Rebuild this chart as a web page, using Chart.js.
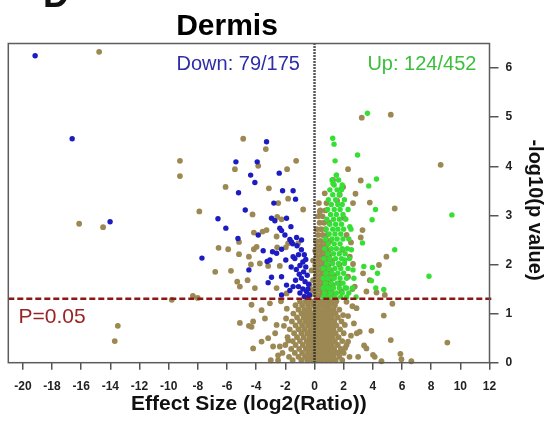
<!DOCTYPE html>
<html>
<head>
<meta charset="utf-8">
<script src="https://cdn.jsdelivr.net/npm/chart.js@4.4.1/dist/chart.umd.min.js"></script>
<style>
  body { margin: 0; background: #fff; }
  canvas { display: block; }
</style>
</head>
<body>
<canvas id="volcano" width="545" height="423"></canvas>
<script>
const xTicks = [-20, -18, -16, -14, -12, -10, -8, -6, -4, -2, 0, 2, 4, 6, 8, 10, 12]
const yTicks = [0, 1, 2, 3, 4, 5, 6]
const pCut = 1.3

// significant down (blue)
const downPts = [
    [-19.16, 6.25], [-16.62, 4.56], [-14.02, 2.87], [-6.62, 2.93], [-6.08, 2.74], [-4.75, 3.11],
    [-5.25, 2.53], [-7.72, 2.13], [-4.5, 1.89], [-3.29, 4.5], [-5.39, 4.09], [-3.93, 4.09],
    [-4.38, 3.82], [-2.42, 3.86], [-4.09, 3.67], [-5.21, 3.46], [-2.19, 3.5], [-1.47, 3.5],
    [-1.3, 3.33], [-2.79, 3.25], [-2.95, 2.94], [-2.72, 2.89], [-1.92, 2.94], [-2.38, 2.74],
    [-2.26, 2.69], [-1.62, 2.77], [-3.86, 2.6], [-2.03, 2.6], [-1.69, 2.51], [-1.23, 2.55],
    [-0.89, 2.5], [-3.52, 2.28], [-2.88, 2.26], [-2.6, 2.23], [-2.26, 2.31], [-1.58, 2.46],
    [-3.06, 2.09], [-3.25, 2.06], [-1.97, 2.09], [-1.47, 2.16], [-2.95, 1.74], [-3.18, 1.63],
    [-2.26, 1.75], [-1.92, 1.58], [-1.47, 1.55], [-2.26, 1.38], [-1.69, 1.47],
    [-1.5, 2.42], [-1.2, 2.38], [-0.9, 2.3], [-0.7, 2.2], [-1.1, 2.2], [-1.35, 2.12],
    [-0.8, 2.05], [-1.0, 1.98], [-0.6, 1.95], [-1.25, 1.9], [-0.75, 1.85], [-1.05, 1.8],
    [-0.5, 1.78], [-0.9, 1.72], [-1.3, 1.68], [-0.65, 1.65], [-0.4, 1.6], [-1.1, 1.55],
    [-0.8, 1.5], [-0.55, 1.45], [-1.0, 1.42], [-0.35, 1.38], [-0.7, 1.35], [-0.45, 1.5],
    [-0.6, 2.1], [-1.6, 1.95], [-0.5, 1.33]
]

// significant up (green)
const upPts = [
    [1.25, 4.57], [1.34, 4.45], [1.41, 4.11], [3.63, 5.08], [2.95, 4.23], [3.72, 3.6],
    [4.25, 3.74], [4.18, 3.12], [3.95, 2.91], [3.29, 2.44], [5.5, 2.3], [3.97, 1.94],
    [3.38, 1.96], [4.32, 1.82], [4.2, 1.52], [9.42, 3.01], [3.9, 1.67], [7.85, 1.76],
    [4.75, 1.49], [2.53, 2.3], [1.5, 3.82], [1.27, 3.65], [1.85, 3.55], [2.42, 2.77],
    [2.08, 2.09], [2.64, 1.89], [2.19, 1.52],
    [1.5, 3.82], [1.2, 3.72], [1.65, 3.72], [1.35, 3.62], [1.9, 3.62], [1.05, 3.52],
    [1.55, 3.52], [1.85, 3.52], [1.25, 3.42], [1.7, 3.42], [0.95, 3.32], [1.45, 3.32],
    [2.05, 3.32], [1.15, 3.22], [1.6, 3.22], [1.9, 3.22], [0.9, 3.12], [1.35, 3.12],
    [1.75, 3.12], [2.3, 3.12], [1.1, 3.02], [1.5, 3.02], [1.95, 3.02], [0.85, 2.92],
    [1.3, 2.92], [1.7, 2.92], [2.15, 2.92], [1.05, 2.82], [1.45, 2.82], [1.85, 2.82],
    [0.8, 2.72], [1.25, 2.72], [1.6, 2.72], [2.0, 2.72], [2.5, 2.72], [1.0, 2.62],
    [1.4, 2.62], [1.8, 2.62], [0.75, 2.52], [1.2, 2.52], [1.55, 2.52], [1.95, 2.52],
    [2.35, 2.52], [0.95, 2.42], [1.35, 2.42], [1.75, 2.42], [0.7, 2.32], [1.15, 2.32],
    [1.5, 2.32], [1.9, 2.32], [2.25, 2.32], [0.9, 2.22], [1.3, 2.22], [1.7, 2.22],
    [2.1, 2.22], [0.65, 2.12], [1.05, 2.12], [1.45, 2.12], [1.85, 2.12], [2.4, 2.12],
    [0.85, 2.02], [1.25, 2.02], [1.65, 2.02], [2.05, 2.02], [0.6, 1.92], [1.0, 1.92],
    [1.4, 1.92], [1.8, 1.92], [2.3, 1.92], [0.8, 1.82], [1.2, 1.82], [1.6, 1.82],
    [2.0, 1.82], [0.6, 1.72], [0.95, 1.72], [1.35, 1.72], [1.75, 1.72], [2.2, 1.72],
    [2.7, 1.72], [0.75, 1.62], [1.15, 1.62], [1.55, 1.62], [1.95, 1.62], [0.6, 1.52],
    [0.95, 1.52], [1.3, 1.52], [1.7, 1.52], [2.1, 1.52], [2.6, 1.52], [0.7, 1.42],
    [1.1, 1.42], [1.5, 1.42], [1.9, 1.42], [2.35, 1.42], [0.62, 1.34], [1.0, 1.34],
    [1.4, 1.34], [1.8, 1.34], [2.2, 1.34], [2.85, 1.34]
]

// not significant (olive)
const otherPts = [
    [-14.77, 6.33], [-9.23, 4.11], [-9.23, 3.8], [-16.14, 2.83], [-14.5, 2.76], [-7.9, 3.08],
    [-5.18, 2.46], [-6.58, 2.34], [-5.92, 2.31], [-5.18, 2.21], [-6.81, 1.85], [-5.73, 1.87],
    [-5.3, 1.65], [-5.12, 1.55], [-4.59, 1.68], [-8.34, 1.36], [-8.01, 1.32], [-9.79, 1.28],
    [-5.12, 0.81], [-13.49, 0.75], [-13.7, 0.44], [-4.5, 0.75], [-4.89, 4.56], [-3.34, 4.35],
    [-1.26, 4.11], [-5.46, 3.94], [-3.86, 4.01], [-1.88, 3.94], [-6.1, 3.58], [-3.13, 3.55],
    [-1.81, 3.34], [-2.49, 3.25], [-0.78, 3.12], [-4.25, 3.02], [-2.56, 2.97], [-2.26, 2.92],
    [-3.29, 2.7], [-4.16, 2.65], [-3.56, 2.67], [-2.6, 2.57], [-1.12, 2.43], [-4.16, 2.31],
    [-3.97, 2.36], [-2.56, 2.35], [-1.97, 2.35], [-1.81, 2.43], [-4.5, 2.16], [-3.75, 2.02],
    [-3.18, 1.97], [-2.38, 1.97], [-4.36, 2.0], [-4.09, 1.52], [-2.6, 1.52], [-1.92, 1.41],
    [-4.32, 0.73], [-4.21, 0.84], [-4.32, 1.18], [-3.63, 1.07], [-3.4, 0.9], [-3.18, 0.5],
    [-3.63, 0.43], [-4.21, 0.29], [-2.84, 0.33], [-2.38, 0.33], [-2.6, 0.77], [-3.06, 1.21],
    [5.23, 5.05], [3.24, 4.99], [2.3, 3.94], [8.65, 4.03], [3.17, 3.71], [5.5, 3.14],
    [3.79, 3.26], [2.81, 3.44], [2.64, 3.25], [3.29, 2.7], [3.17, 2.55], [4.93, 2.16],
    [4.42, 1.99], [3.33, 1.82], [3.79, 1.68], [3.56, 1.45], [2.76, 1.55], [1.73, 1.62],
    [2.64, 2.01], [2.42, 2.16], [4.25, 1.43], [4.82, 1.38], [5.34, 1.2], [4.75, 0.96],
    [3.9, 0.65], [5.23, 0.46], [9.11, 0.41], [4.13, 0.12], [5.89, 0.18], [5.96, 0.07],
    [6.64, 0.03], [4.59, 0.03], [2.19, 1.24], [2.88, 1.11], [2.08, 0.77], [3.1, 0.63],
    [2.3, 0.43], [3.56, 0.29], [2.99, 0.12], [4.01, 0.16], [1.73, 0.22], [1.96, 0.97],
    [-1.9, 1.1], [-2.1, 0.75], [-1.8, 0.45], [-2.7, 0.6], [-2.5, 0.15], [-3.0, 0.05],
    [-1.95, 0.9], [-2.3, 1.25], [2.3, 0.95], [2.5, 0.55], [2.1, 0.3], [2.7, 0.8],
    [3.4, 0.35], [2.6, 1.15], [2.9, 0.6],
    // column above the cut
    [-0.3, 1.38], [0.1, 1.38], [0.4, 1.38], [0.7, 1.38], [1.0, 1.38], [1.3, 1.38],
    [-0.15, 1.48], [0.2, 1.48], [0.5, 1.48], [0.85, 1.48], [1.15, 1.48],
    [-0.35, 1.58], [0.05, 1.58], [0.35, 1.58], [0.65, 1.58], [0.95, 1.58], [1.25, 1.58],
    [-0.1, 1.68], [0.25, 1.68], [0.55, 1.68], [0.85, 1.68], [1.1, 1.68],
    [0.1, 1.78], [0.4, 1.78], [0.7, 1.78], [1.0, 1.78], [1.35, 1.78],
    [-0.2, 1.88], [0.2, 1.88], [0.5, 1.88], [0.8, 1.88], [1.1, 1.88],
    [0.05, 1.98], [0.35, 1.98], [0.65, 1.98], [0.95, 1.98],
    [-0.1, 2.08], [0.25, 2.08], [0.55, 2.08], [0.85, 2.08], [1.2, 2.08],
    [0.15, 2.18], [0.45, 2.18], [0.75, 2.18], [1.0, 2.18],
    [0.05, 2.28], [0.35, 2.28], [0.65, 2.28], [0.95, 2.28],
    [0.2, 2.38], [0.5, 2.38], [0.8, 2.38],
    [0.1, 2.48], [0.4, 2.48], [0.7, 2.48], [1.05, 2.48],
    [0.25, 2.6], [0.55, 2.6], [0.85, 2.6], [0.15, 2.72], [0.45, 2.72], [0.75, 2.72],
    [0.35, 2.85], [0.65, 2.85], [1.0, 2.85], [0.25, 2.98], [0.55, 2.98],
    [0.4, 3.1], [0.75, 3.1], [0.82, 3.25], [0.3, 3.25], [0.7, 3.45], [1.27, 3.72],
    [1.73, 3.42], [1.96, 3.58], [0.36, 3.08],
    [1.55, 3.3], [2.0, 2.95], [2.2, 2.6], [1.9, 2.3], [2.5, 2.45], [1.7, 2.0],
    [2.3, 1.75], [2.6, 1.5], [1.85, 1.45],
    // dense blob below the cut
    [-1.0, 1.25], [-0.6, 1.25], [-0.25, 1.25], [0.1, 1.25], [0.35, 1.25], [0.6, 1.25], [0.9, 1.25], [1.2, 1.25], [1.5, 1.25],
    [-1.3, 1.17], [-0.85, 1.17], [-0.45, 1.17], [-0.1, 1.17], [0.2, 1.17], [0.5, 1.17], [0.8, 1.17], [1.05, 1.17], [1.4, 1.17],
    [-1.1, 1.08], [-0.7, 1.08], [-0.35, 1.08], [0.05, 1.08], [0.3, 1.08], [0.65, 1.08], [0.95, 1.08], [1.3, 1.08], [1.7, 1.08],
    [-1.45, 1.0], [-0.9, 1.0], [-0.55, 1.0], [-0.2, 1.0], [0.15, 1.0], [0.45, 1.0], [0.75, 1.0], [1.1, 1.0], [1.45, 1.0],
    [-1.2, 0.92], [-0.75, 0.92], [-0.4, 0.92], [-0.05, 0.92], [0.25, 0.92], [0.55, 0.92], [0.88, 0.92], [1.2, 0.92], [1.6, 0.92],
    [-1.55, 0.84], [-1.0, 0.84], [-0.6, 0.84], [-0.25, 0.84], [0.1, 0.84], [0.4, 0.84], [0.7, 0.84], [1.0, 0.84], [1.35, 0.84], [1.85, 0.84],
    [-1.3, 0.76], [-0.85, 0.76], [-0.45, 0.76], [-0.1, 0.76], [0.2, 0.76], [0.5, 0.76], [0.82, 0.76], [1.15, 0.76], [1.5, 0.76],
    [-1.7, 0.68], [-1.1, 0.68], [-0.7, 0.68], [-0.3, 0.68], [0.05, 0.68], [0.35, 0.68], [0.65, 0.68], [0.95, 0.68], [1.3, 0.68], [1.75, 0.68],
    [-1.4, 0.6], [-0.9, 0.6], [-0.5, 0.6], [-0.15, 0.6], [0.2, 0.6], [0.5, 0.6], [0.8, 0.6], [1.1, 0.6], [1.45, 0.6], [2.0, 0.6],
    [-1.85, 0.52], [-1.2, 0.52], [-0.75, 0.52], [-0.35, 0.52], [0.0, 0.52], [0.3, 0.52], [0.62, 0.52], [0.92, 0.52], [1.25, 0.52], [1.65, 0.52],
    [-1.5, 0.44], [-1.0, 0.44], [-0.55, 0.44], [-0.2, 0.44], [0.15, 0.44], [0.45, 0.44], [0.75, 0.44], [1.05, 0.44], [1.4, 0.44], [1.9, 0.44],
    [-2.0, 0.36], [-1.3, 0.36], [-0.8, 0.36], [-0.4, 0.36], [-0.05, 0.36], [0.28, 0.36], [0.58, 0.36], [0.9, 0.36], [1.2, 0.36], [1.6, 0.36], [2.2, 0.36],
    [-1.6, 0.28], [-1.05, 0.28], [-0.6, 0.28], [-0.25, 0.28], [0.1, 0.28], [0.4, 0.28], [0.7, 0.28], [1.0, 0.28], [1.35, 0.28], [1.8, 0.28],
    [-2.2, 0.2], [-1.35, 0.2], [-0.85, 0.2], [-0.45, 0.2], [-0.1, 0.2], [0.22, 0.2], [0.52, 0.2], [0.85, 0.2], [1.15, 0.2], [1.5, 0.2], [2.0, 0.2],
    [-1.75, 0.12], [-1.1, 0.12], [-0.65, 0.12], [-0.3, 0.12], [0.05, 0.12], [0.35, 0.12], [0.65, 0.12], [0.98, 0.12], [1.3, 0.12], [1.7, 0.12], [2.4, 0.12],
    [-2.5, 0.05], [-1.5, 0.05], [-0.9, 0.05], [-0.5, 0.05], [-0.15, 0.05], [0.18, 0.05], [0.48, 0.05], [0.8, 0.05], [1.1, 0.05], [1.45, 0.05], [1.9, 0.05]
]

const FONT = '"Liberation Sans", Arial, sans-serif'

function toXY(list) {
    return list.map(p => ({ x: p[0], y: p[1] }))
}

const panelText = {
    id: 'panelText',
    afterDraw(chart) {
        const { ctx, chartArea: a, scales: { x, y } } = chart
        ctx.save()
        ctx.strokeStyle = '#5c5c5c'
        ctx.lineWidth = 1.5
        ctx.strokeRect(a.left, a.top, a.right - a.left, a.bottom - a.top)

        ctx.textBaseline = 'alphabetic'
        ctx.font = '20px ' + FONT
        ctx.textAlign = 'right'
        ctx.fillStyle = '#2e2ea8'
        ctx.fillText('Down: 79/175', x.getPixelForValue(-1.0), y.getPixelForValue(5.96))
        ctx.fillStyle = '#3cbf3c'
        ctx.fillText('Up: 124/452', x.getPixelForValue(11.1), y.getPixelForValue(5.96))
        ctx.textAlign = 'left'
        ctx.font = '21px ' + FONT
        ctx.fillStyle = '#9a2424'
        ctx.fillText('P=0.05', x.getPixelForValue(-20.3), y.getPixelForValue(0.8))

        ctx.fillStyle = '#000'
        ctx.textAlign = 'center'
        ctx.font = 'bold 30px ' + FONT
        ctx.fillText('Dermis', 227, 35)
        ctx.textAlign = 'left'
        ctx.font = 'bold 36px ' + FONT
        ctx.fillStyle = '#111'
        ctx.fillText('D', 43, 7)

        // right axis title, a little below the plot centre as in the source
        ctx.translate(535, 210)
        ctx.rotate(Math.PI / 2)
        ctx.textAlign = 'center'
        ctx.textBaseline = 'middle'
        ctx.font = 'bold 20px ' + FONT
        ctx.fillText('-log10(p value)', 0, 0)
        ctx.restore()
    }
}

new Chart(document.getElementById('volcano'), {
    type: 'scatter',
    data: {
        datasets: [
            {
                data: [{ x: -21, y: pCut }, { x: 12.15, y: pCut }],
                showLine: true,
                borderColor: '#8e1616',
                borderWidth: 2.5,
                borderDash: [6, 3],
                pointRadius: 0,
                clip: false,
                order: 0
            },
            {
                data: [{ x: 0, y: 0 }, { x: 0, y: 6.5 }],
                showLine: true,
                borderColor: '#222',
                borderWidth: 2.5,
                borderDash: [1.5, 1.5],
                pointRadius: 0,
                order: 0
            },
            {
                data: toXY(downPts),
                backgroundColor: '#1c1cc2',
                pointRadius: 2.7,
                borderWidth: 0,
                order: 1
            },
            {
                data: toXY(upPts),
                backgroundColor: '#33e033',
                pointRadius: 2.7,
                borderWidth: 0,
                order: 1
            },
            {
                data: toXY(otherPts),
                backgroundColor: 'rgb(156,136,82)',
                pointRadius: 2.9,
                borderWidth: 0,
                clip: false,
                order: 2
            }
        ]
    },
    options: {
        responsive: false,
        animation: false,
        events: [],
        layout: { padding: { top: 43.5, left: 8.3, right: 0, bottom: 0 } },
        plugins: { legend: { display: false }, tooltip: { enabled: false } },
        scales: {
            x: {
                type: 'linear',
                min: -21,
                max: 12,
                afterBuildTicks: s => { s.ticks = xTicks.map(v => ({ value: v })) },
                afterFit: s => { s.height = 423 - 362.7 },
                border: { display: false },
                grid: { drawOnChartArea: false, drawTicks: true, tickLength: 7, color: '#555', lineWidth: 1.5 },
                ticks: { color: '#222', padding: 10, maxRotation: 0, autoSkip: false, font: { family: FONT, size: 12, weight: 'bold' }, callback: v => String(v) },
                title: { display: true, text: 'Effect Size (log2(Ratio))', color: '#111', padding: { bottom: 6 }, font: { family: FONT, size: 21, weight: 'bold' } }
            },
            y: {
                type: 'linear',
                position: 'right',
                min: 0,
                max: 6.5,
                afterBuildTicks: s => { s.ticks = yTicks.map(v => ({ value: v })) },
                afterFit: s => { s.width = 545 - 489.5 },
                border: { display: false },
                grid: { drawOnChartArea: false, drawTicks: true, tickLength: 9, color: '#555', lineWidth: 1.5 },
                ticks: { color: '#222', padding: 7, font: { family: FONT, size: 12, weight: 'bold' }, callback: v => String(v) },
                title: { display: false }
            }
        }
    },
    plugins: [panelText]
})
</script>
</body>
</html>
